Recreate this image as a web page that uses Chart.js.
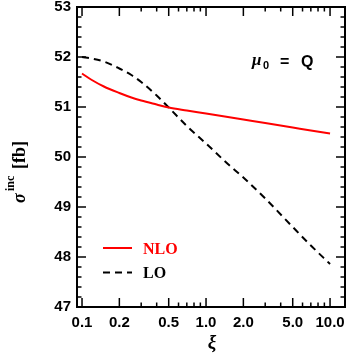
<!DOCTYPE html>
<html>
<head>
<meta charset="utf-8">
<script src="https://cdn.jsdelivr.net/npm/chart.js@4/dist/chart.umd.min.js"></script>
<style>
  body { margin: 0; background: #fff; }
  canvas { display: block; }
</style>
</head>
<body>
<canvas id="chart" width="351" height="358"></canvas>
<script>
// values
const xi  = [0.1, 0.12, 0.15, 0.2, 0.25, 0.3, 0.4, 0.5, 0.7, 1.0, 1.5, 2.0, 3.0, 5.0, 7.0, 10.0];
const nlo = [51.67, 51.54, 51.41, 51.28, 51.19, 51.13, 51.05, 50.99, 50.93, 50.87, 50.80, 50.75, 50.68, 50.59, 50.53, 50.47];
const lo  = [52.00, 51.97, 51.91, 51.77, 51.64, 51.50, 51.23, 50.99, 50.62, 50.27, 49.86, 49.59, 49.17, 48.60, 48.23, 47.86];

const xTicks = [0.1, 0.2, 0.5, 1, 2, 5, 10];
const xMinorTicks = [0.3, 0.4, 0.6, 0.7, 0.8, 0.9, 3, 4, 6, 7, 8, 9];
const yTicks = [47, 48, 49, 50, 51, 52, 53];
const yMinorTicks = [];
for (let v = 47; v < 53; v += 1) {
    [0.2, 0.4, 0.6, 0.8].forEach(d => yMinorTicks.push(v + d));
}

const tickFont = { family: 'Liberation Sans', size: 15, weight: 'bold' };

// frame, inward ticks, legend, labels
const decorations = {
    id: 'decorations',
    afterDatasetsDraw(chart) {
        const ctx = chart.ctx;
        const a = chart.chartArea;
        const xs = chart.scales.x, ys = chart.scales.y;
        ctx.save();
        ctx.strokeStyle = '#000';
        ctx.lineWidth = 1.5;
        const tick = (x1, y1, x2, y2) => {
            ctx.beginPath(); ctx.moveTo(x1, y1); ctx.lineTo(x2, y2); ctx.stroke();
        };
        xTicks.forEach(v => {
            const px = xs.getPixelForValue(v);
            tick(px, a.bottom, px, a.bottom - 9);
            tick(px, a.top, px, a.top + 9);
        });
        xMinorTicks.forEach(v => {
            const px = xs.getPixelForValue(v);
            tick(px, a.bottom, px, a.bottom - 4.5);
            tick(px, a.top, px, a.top + 4.5);
        });
        yTicks.forEach(v => {
            const py = ys.getPixelForValue(v);
            tick(a.left, py, a.left + 9, py);
            tick(a.right, py, a.right - 9, py);
        });
        yMinorTicks.forEach(v => {
            const py = ys.getPixelForValue(v);
            tick(a.left, py, a.left + 4.5, py);
            tick(a.right, py, a.right - 4.5, py);
        });
        ctx.lineWidth = 2;
        ctx.strokeRect(a.left, a.top, a.right - a.left, a.bottom - a.top);

        // legend
        ctx.lineWidth = 2;
        ctx.strokeStyle = '#ff0000';
        tick(103, 248, 132, 248);
        ctx.strokeStyle = '#000';
        ctx.setLineDash([7, 5]);
        tick(103, 272.5, 132, 272.5);
        ctx.setLineDash([]);
        ctx.textBaseline = 'alphabetic';
        ctx.textAlign = 'left';
        ctx.font = 'bold 16px "Liberation Serif"';
        ctx.fillStyle = '#ff0000';
        ctx.fillText('NLO', 143, 254);
        ctx.fillStyle = '#000';
        ctx.fillText('LO', 143, 278);

        // mu_0 = Q
        ctx.font = 'italic bold 17px "Liberation Serif"';
        ctx.fillText('μ', 252, 65);
        ctx.font = 'bold 11px "Liberation Sans"';
        ctx.fillText('0', 263, 69);
        ctx.font = 'bold 16px "Liberation Sans"';
        ctx.fillText('=', 280, 67);
        ctx.fillText('Q', 301, 67);

        // x title
        ctx.textAlign = 'center';
        ctx.font = 'italic bold 19px "Liberation Serif"';
        ctx.fillText('ξ', 212, 348);

        // y title
        ctx.save();
        ctx.translate(25, 203);
        ctx.rotate(-Math.PI / 2);
        ctx.textAlign = 'left';
        ctx.font = 'italic bold 18px "Liberation Serif"';
        ctx.fillText('σ', 0, 0);
        ctx.font = 'bold 12px "Liberation Serif"';
        ctx.fillText('inc', 12, -11);
        ctx.font = 'bold 18px "Liberation Serif"';
        ctx.fillText('[fb]', 34, 0);
        ctx.restore();

        ctx.restore();
    }
};

new Chart(document.getElementById('chart'), {
    type: 'line',
    data: {
        datasets: [
            {
                label: 'NLO',
                data: xi.map((x, i) => ({ x: x, y: nlo[i] })),
                borderColor: '#ff0000',
                borderWidth: 2,
                pointRadius: 0,
                cubicInterpolationMode: 'monotone',
                fill: false
            },
            {
                label: 'LO',
                data: xi.map((x, i) => ({ x: x, y: lo[i] })),
                borderColor: '#000000',
                borderWidth: 2,
                borderDash: [7, 5],
                pointRadius: 0,
                cubicInterpolationMode: 'monotone',
                fill: false
            }
        ]
    },
    options: {
        responsive: false,
        animation: false,
        devicePixelRatio: 1,
        layout: { padding: { top: 7, right: 6, left: 0, bottom: 0 } },
        plugins: { legend: { display: false }, tooltip: { enabled: false } },
        scales: {
            x: {
                type: 'logarithmic',
                min: 0.0911,
                max: 13.2,
                grid: { display: false, drawTicks: false },
                border: { display: false },
                afterBuildTicks: s => { s.ticks = xTicks.map(v => ({ value: v })); },
                afterFit: s => { s.height = 51; s.paddingLeft = 0; s.paddingRight = 0; },
                ticks: {
                    autoSkip: false, maxRotation: 0, minRotation: 0, padding: 7,
                    color: '#000', font: tickFont,
                    callback: v => Number(v).toFixed(1)
                }
            },
            y: {
                min: 47,
                max: 53,
                grid: { display: false, drawTicks: false },
                border: { display: false },
                afterBuildTicks: s => { s.ticks = yTicks.map(v => ({ value: v })); },
                afterFit: s => { s.width = 77; s.paddingTop = 0; s.paddingBottom = 0; },
                ticks: { padding: 6, color: '#000', font: tickFont }
            }
        }
    },
    plugins: [decorations]
});
</script>
</body>
</html>
